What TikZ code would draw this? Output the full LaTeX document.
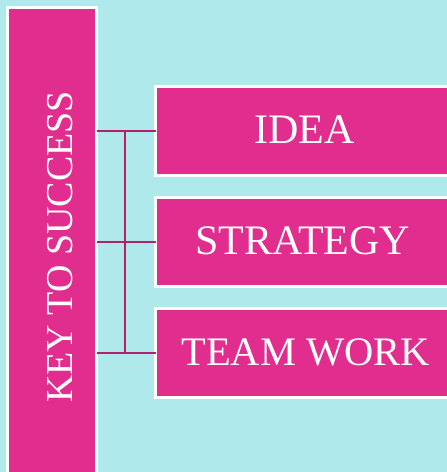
\documentclass[tikz,border=0pt]{standalone}
\usepackage{fontspec}
\setmainfont{Liberation Serif}
\definecolor{bgc}{RGB}{175,233,235}
\definecolor{boxc}{RGB}{224,45,142}
\definecolor{linec}{RGB}{180,31,110}
\begin{document}
\begin{tikzpicture}[x=1pt,y=1pt,
  pinkbox/.style={draw=white, line width=3pt, fill=boxc, text=white, inner sep=0pt, outer sep=0pt, font=\fontsize{40}{48}\selectfont},
  boxlabel/.style={text=white, inner sep=0pt, outer sep=0pt},
  conn/.style={draw=linec, line width=2.7pt}]
\useasboundingbox (0,0) rectangle (447,472);
\clip (0,0) rectangle (447,472);
\fill[bgc] (0,0) rectangle (447,472);
\node[pinkbox, minimum width=89pt, minimum height=490pt, anchor=north west] (key) at (7.5,464.5) {};
\node[boxlabel, anchor=base, rotate=90, font=\fontsize{38}{46}\selectfont] (keytext) at (72,225) {KEY TO SUCCESS};
\node[pinkbox, minimum width=296.5pt, minimum height=89pt, anchor=north west] (idea) at (155.5,385.5) {};
\node[pinkbox, minimum width=296.5pt, minimum height=89pt, anchor=north west] (strat) at (155.5,274.5) {};
\node[pinkbox, minimum width=296.5pt, minimum height=89pt, anchor=north west] (team) at (155.5,163.5) {};
\node[boxlabel, font=\fontsize{42}{50}\selectfont] (ideatext) at ([xshift=1pt,yshift=1pt]idea.center) {IDEA};
\node[boxlabel, font=\fontsize{42}{50}\selectfont] (strattext) at ([xshift=-1pt,yshift=1pt]strat.center) {STRATEGY};
\node[boxlabel, font=\fontsize{40.5}{48}\selectfont] (teamtext) at ([xshift=2pt,yshift=1pt]team.center) {TEAM WORK};
\coordinate (bus) at (125,0);
\draw[conn] (key.east |- idea.west) -- (idea.west);
\draw[conn] (key.east |- strat.west) -- (strat.west);
\draw[conn] (key.east |- team.west) -- (team.west);
\draw[conn] (bus |- idea.west) -- (bus |- team.west);
\end{tikzpicture}
\end{document}
